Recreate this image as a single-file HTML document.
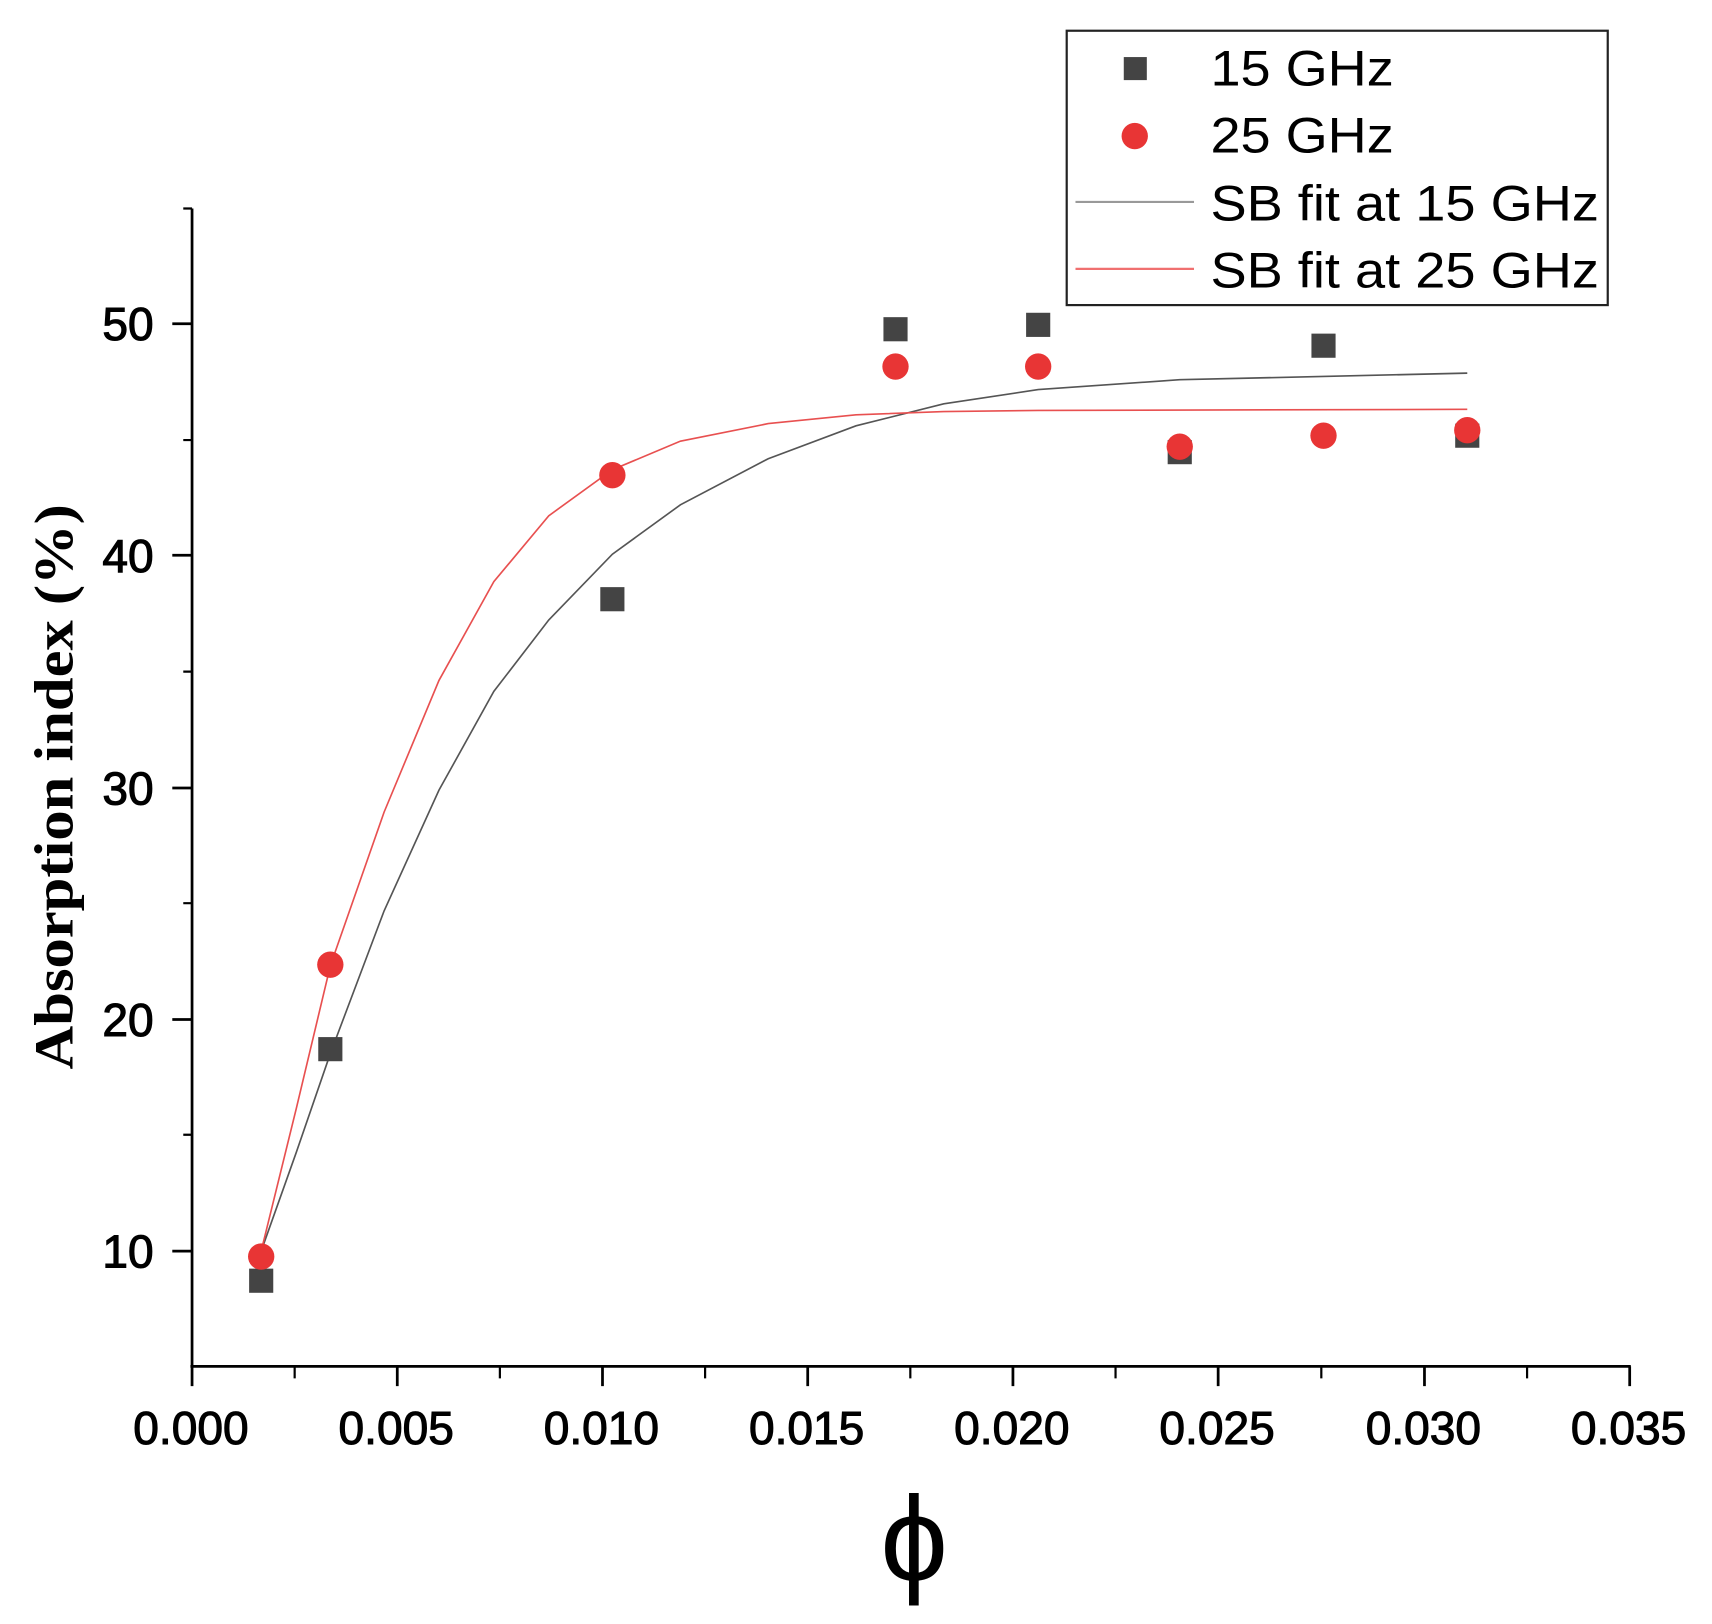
<!DOCTYPE html>
<html><head><meta charset="utf-8"><style>html,body{margin:0;padding:0;background:#fff}svg{display:block}</style></head>
<body>
<svg width="1712" height="1624" viewBox="0 0 1560 1479.8" preserveAspectRatio="none" xmlns="http://www.w3.org/2000/svg">
<rect width="1560" height="1480" fill="#fff"/>
<g stroke="#000" stroke-width="2.5" fill="none">
<line x1="175" y1="190" x2="175" y2="1246"/>
<line x1="173.5" y1="1245" x2="1486" y2="1245"/>
<path d="M175,1245v18M362,1245v18M549,1245v18M736,1245v18M923,1245v18M1110,1245v18M1298,1245v18M1485,1245v18"/>
<path d="M268.5,1245v11M455.5,1245v11M642.5,1245v11M829.5,1245v11M1016.5,1245v11M1204,1245v11M1391.5,1245v11" stroke-width="2"/>
<path d="M175,295h-18M175,506h-18M175,718h-18M175,929h-18M175,1140h-18"/>
<path d="M175,190h-8M175,401h-8M175,612h-8M175,823h-8M175,1034h-8" stroke-width="2"/>
</g>
<g font-family="Liberation Sans, sans-serif" font-size="42" fill="#000" stroke="#000" stroke-width="1" text-anchor="middle">
<text x="174" y="1316">0.000</text><text x="361" y="1316">0.005</text><text x="548" y="1316">0.010</text><text x="735" y="1316">0.015</text><text x="922" y="1316">0.020</text><text x="1109" y="1316">0.025</text><text x="1297" y="1316">0.030</text><text x="1484" y="1316">0.035</text>
</g>
<g font-family="Liberation Sans, sans-serif" font-size="42" fill="#000" stroke="#000" stroke-width="1" text-anchor="end">
<text x="140" y="310">50</text><text x="140" y="521">40</text><text x="140" y="733">30</text><text x="140" y="944">20</text><text x="140" y="1155">10</text>
</g>
<text transform="translate(66,717) rotate(-90)" font-family="Liberation Serif, serif" font-weight="bold" font-size="50" text-anchor="middle" textLength="515" lengthAdjust="spacingAndGlyphs">Absorption index (%)</text>
<text x="833" y="1440" font-family="Liberation Sans, sans-serif" font-size="110" text-anchor="middle">ϕ</text>
<polyline fill="none" stroke="#555" stroke-width="1.5" points="238,1140 270,1050 301,960 350,830 400,720 450,630 500,565 558,505 620,460 700,418 780,388 860,368 946,355 1075,346 1206,343 1337,340"/>
<polyline fill="none" stroke="#e85050" stroke-width="1.5" points="238,1140 270,1010 301,880 350,740 400,620 450,530 500,470 558,428 620,402 700,386 780,378 860,375 946,374 1337,373"/>
<g fill="#444">
<rect x="227" y="1156" width="22" height="22"/><rect x="290" y="945" width="22" height="22"/><rect x="547" y="535" width="22" height="22"/><rect x="805" y="289" width="22" height="22"/><rect x="935" y="285" width="22" height="22"/><rect x="1064" y="401" width="22" height="22"/><rect x="1195" y="304" width="22" height="22"/><rect x="1326" y="386" width="22" height="22"/>
</g>
<g fill="#e83535">
<circle cx="238" cy="1145" r="12"/><circle cx="301" cy="879" r="12"/><circle cx="558" cy="433" r="12"/><circle cx="816" cy="334" r="12"/><circle cx="946" cy="334" r="12"/><circle cx="1075" cy="407" r="12"/><circle cx="1206" cy="397" r="12"/><circle cx="1337" cy="392" r="12"/>
</g>
<rect x="972" y="28" width="493" height="250" fill="#fff" stroke="#222" stroke-width="2"/>
<rect x="1024" y="52" width="21" height="21" fill="#444"/>
<circle cx="1034" cy="124" r="12" fill="#e83535"/>
<line x1="980" y1="184" x2="1088" y2="184" stroke="#999" stroke-width="2"/>
<line x1="980" y1="245" x2="1088" y2="245" stroke="#f07070" stroke-width="2"/>
<g font-family="Liberation Sans, sans-serif" font-size="46" fill="#000">
<text x="1103" y="78" textLength="167" lengthAdjust="spacingAndGlyphs">15 GHz</text><text x="1103" y="139" textLength="167" lengthAdjust="spacingAndGlyphs">25 GHz</text><text x="1103" y="201" textLength="354" lengthAdjust="spacingAndGlyphs">SB fit at 15 GHz</text><text x="1103" y="262" textLength="354" lengthAdjust="spacingAndGlyphs">SB fit at 25 GHz</text>
</g>
</svg>
</body></html>
